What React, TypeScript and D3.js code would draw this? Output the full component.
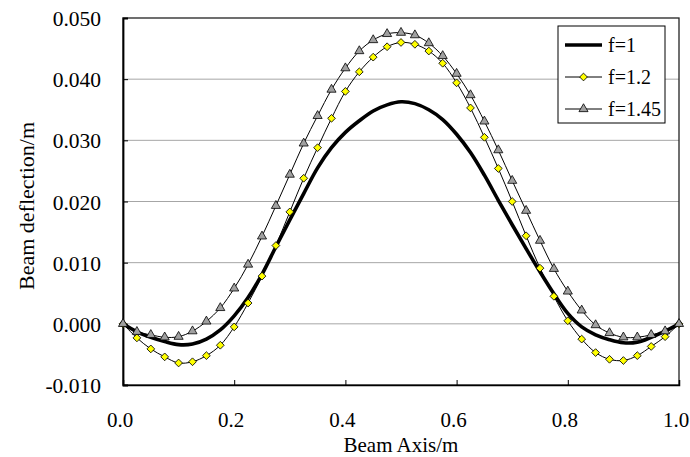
import { useEffect, useRef } from "react";
import * as d3 from "d3";

const W = 690, H = 457;
const M = { top: 18, right: 11, bottom: 72, left: 123 };
const IW = W - M.left - M.right;
const IH = H - M.top - M.bottom;
const FONT = "'Liberation Serif', serif";

// beam positions (m)
const X_POS = [
  0, 0.025, 0.05, 0.075, 0.1, 0.125, 0.15, 0.175, 0.2, 0.225,
  0.25, 0.275, 0.3, 0.325, 0.35, 0.375, 0.4, 0.425, 0.45, 0.475,
  0.5, 0.525, 0.55, 0.575, 0.6, 0.625, 0.65, 0.675, 0.7, 0.725,
  0.75, 0.775, 0.8, 0.825, 0.85, 0.875, 0.9, 0.925, 0.95, 0.975, 1.0,
];

// deflection (m)
const F1 = [
  0, -0.0013, -0.0022, -0.0029, -0.0034, -0.0033, -0.0025, -0.0010, 0.0013, 0.0043,
  0.0081, 0.0126, 0.0170, 0.0213, 0.0255, 0.0288, 0.0313, 0.0332, 0.0348, 0.0358,
  0.0363, 0.0360, 0.0350, 0.0334, 0.0310, 0.0280, 0.0243, 0.0202, 0.0162, 0.0123,
  0.0085, 0.0049, 0.0017, -0.0005, -0.0018, -0.0026, -0.0031, -0.0030, -0.0022, -0.0012, 0,
];
const F12 = [
  0, -0.0023, -0.0041, -0.0054, -0.0064, -0.0062, -0.0052, -0.0035, -0.0005, 0.0034,
  0.0078, 0.0128, 0.0183, 0.0238, 0.0288, 0.0336, 0.0380, 0.0412, 0.0436, 0.0453,
  0.0460, 0.0457, 0.0446, 0.0426, 0.0394, 0.0353, 0.0305, 0.0254, 0.0200, 0.0144,
  0.0091, 0.0045, 0.0005, -0.0025, -0.0047, -0.0058, -0.0060, -0.0052, -0.0037, -0.0021, 0,
];
const F145 = [
  0, -0.0013, -0.0018, -0.0022, -0.0021, -0.0012, 0.0004, 0.0026, 0.0058, 0.0097,
  0.0143, 0.0193, 0.0244, 0.0295, 0.0340, 0.0383, 0.0418, 0.0446, 0.0464, 0.0474,
  0.0476, 0.0472, 0.0459, 0.0438, 0.0409, 0.0374, 0.0331, 0.0284, 0.0234, 0.0185,
  0.0136, 0.0090, 0.0053, 0.0022, -0.0002, -0.0015, -0.0022, -0.0022, -0.0018, -0.0012, 0,
];

const X_TICKS = [0, 0.2, 0.4, 0.6, 0.8, 1.0];
const Y_TICKS = [-0.01, 0, 0.01, 0.02, 0.03, 0.04, 0.05];
const GRID = [0, 0.01, 0.02, 0.03, 0.04];
const NAMES = ["f=1", "f=1.2", "f=1.45"];

const SERIES = [
  { name: NAMES[0], values: F1, width: 3.6, marker: null },
  { name: NAMES[1], values: F12, width: 1, marker: "diamond" },
  { name: NAMES[2], values: F145, width: 1, marker: "triangle" },
];

// plain hyphen for negatives, like the original
const fmt = (spec) => (d) => d3.format(spec)(d).replace("\u2212", "-");

export default function App() {
  const svgRef = useRef(null);

  useEffect(() => {
    document.body.style.margin = "0";
    const svg = d3.select(svgRef.current);
    svg.selectAll("*").remove();

    const g = svg.append("g").attr("transform", `translate(${M.left},${M.top})`);

    const x = d3.scaleLinear().domain([0, 1]).range([0, IW]);
    const y = d3.scaleLinear().domain([-0.01, 0.05]).range([IH, 0]);

    // ── grid ──
    g.append("g").selectAll("line").data(GRID).join("line")
      .attr("x1", 0).attr("x2", IW)
      .attr("y1", d => y(d)).attr("y2", d => y(d))
      .attr("stroke", "#a6a6a6").attr("stroke-width", 1);

    // ── frame ──
    g.append("rect").attr("width", IW).attr("height", IH)
      .attr("fill", "none").attr("stroke", "#222").attr("stroke-width", 1.3);

    // ── axes ──
    const xAxis = g.append("g").attr("transform", `translate(0,${IH})`)
      .call(d3.axisBottom(x).tickValues(X_TICKS).tickSize(-5).tickFormat(fmt(".1f")));
    xAxis.attr("font-family", FONT).attr("font-size", 21);
    xAxis.select(".domain").attr("stroke", "#000").attr("stroke-width", 1.5);
    xAxis.selectAll(".tick line").attr("stroke", "#000");
    xAxis.selectAll("text").attr("x", -3.5).attr("y", 41.5).attr("dy", 0).attr("fill", "#000");

    const yAxis = g.append("g")
      .call(d3.axisLeft(y).tickValues(Y_TICKS).tickSize(-5).tickFormat(fmt(".3f")));
    yAxis.attr("font-family", FONT).attr("font-size", 21.5);
    yAxis.select(".domain").attr("stroke", "#000").attr("stroke-width", 1.8);
    yAxis.selectAll(".tick line").attr("stroke", "#000");
    yAxis.selectAll("text").attr("x", -22).attr("dy", "0.35em").attr("fill", "#000");

    // ── titles ──
    svg.append("text")
      .attr("x", M.left + IW / 2).attr("y", 452)
      .attr("text-anchor", "middle").attr("font-size", 21)
      .text("Beam Axis/m");
    svg.append("text")
      .attr("transform", `translate(34,206) rotate(-90)`)
      .attr("text-anchor", "middle").attr("font-size", 22)
      .text("Beam deflection/m");

    // ── lines ──
    const line = d3.line()
      .x((_, i) => x(X_POS[i])).y(d => y(d))
      .curve(d3.curveCatmullRom.alpha(0.5));

    const markerPath = (type) => type === "diamond"
      ? d3.symbol().type(d3.symbolSquare).size(30)()
      : d3.symbol().type(d3.symbolTriangle).size(36)();
    const markerFill = (type) => type === "diamond" ? "#ffff00" : "#a0a0a0";
    const markerRot = (type) => type === "diamond" ? " rotate(45)" : "";

    [...SERIES].reverse().forEach(s => {
      g.append("path").datum(s.values)
        .attr("fill", "none").attr("stroke", "#000")
        .attr("stroke-width", s.width).attr("d", line);
    });
    SERIES.forEach(s => {
      if (!s.marker) return;
      g.append("g").selectAll("path").data(s.values).join("path")
        .attr("transform", (d, i) => `translate(${x(X_POS[i])},${y(d)})${markerRot(s.marker)}`)
        .attr("d", markerPath(s.marker))
        .attr("fill", markerFill(s.marker)).attr("stroke", "#000").attr("stroke-width", 0.8);
    });

    // ── legend ──
    const lg = svg.append("g").attr("transform", "translate(558,26)");
    lg.append("rect").attr("width", 107).attr("height", 97)
      .attr("fill", "#fff").attr("stroke", "#000").attr("stroke-width", 1);
    SERIES.forEach((s, i) => {
      const cy = 19 + i * 32;
      lg.append("line").attr("x1", 7).attr("x2", 44).attr("y1", cy).attr("y2", cy)
        .attr("stroke", "#000").attr("stroke-width", s.width);
      if (s.marker) {
        lg.append("path").attr("transform", `translate(25.5,${cy})${markerRot(s.marker)}`)
          .attr("d", markerPath(s.marker))
          .attr("fill", markerFill(s.marker)).attr("stroke", "#000").attr("stroke-width", 0.8);
      }
      lg.append("text").attr("x", 50).attr("y", cy).attr("dy", "0.35em")
        .attr("font-size", 20).text(s.name);
    });
  }, []);

  return (
    <div style={{ width: W, height: H, background: "#fff", fontFamily: FONT }}>
      <svg ref={svgRef} width={W} height={H} fontFamily={FONT} style={{ display: "block", fontFamily: FONT }} />
    </div>
  );
}
